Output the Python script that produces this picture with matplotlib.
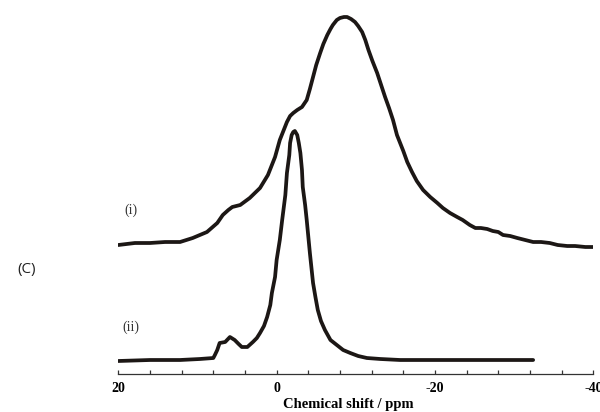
import numpy as np
import matplotlib
matplotlib.use("Agg")
import matplotlib.pyplot as plt

# Trace (i): chemical shift (ppm) and intensity (a.u.)
shift_i = [20.0, 17.9, 16.0, 14.1, 12.2, 10.6, 8.8, 7.5, 6.8, 6.1, 5.6, 4.6, 3.4, 2.1,
           1.1, 0.2, -0.4, -0.9, -1.3, -1.7, -2.1, -2.6, -3.2, -3.8, -4.2, -4.6, -5.0,
           -5.5, -5.9, -6.4, -6.8, -7.1, -7.6, -8.0, -8.5, -8.9, -9.4, -9.9, -10.3,
           -10.8, -11.2, -11.6, -12.1, -12.7, -13.2, -13.7, -14.2, -14.7, -15.2, -16.0,
           -16.5, -17.1, -17.7, -18.5, -19.4, -20.3, -21.0, -21.9, -22.8, -23.5, -24.4,
           -25.1, -25.8, -26.6, -27.3, -28.0, -28.6, -29.5, -30.4, -31.4, -32.4, -33.4,
           -34.5, -35.5, -36.7, -37.7, -39.0, -40.0]
inten_i = [129, 131, 131, 132, 132, 136, 142, 151, 159, 164, 167, 169, 176, 186,
           199, 217, 234, 244, 252, 258, 261, 264, 267, 274, 285, 297, 309,
           321, 330, 339, 345, 349, 354, 356, 357, 357, 355, 352, 348,
           342, 334, 324, 313, 301, 289, 277, 266, 254, 239, 223,
           212, 202, 193, 184, 177, 171, 166, 161, 157, 154, 149,
           146, 146, 145, 143, 142, 139, 138, 136, 134, 132, 132,
           131, 129, 128, 128, 127, 127]

# Trace (ii)
shift_ii = [20.0, 16.0, 12.2, 9.7, 8.0, 7.8, 7.5, 7.2, 6.5, 5.9, 5.3, 4.8, 4.4, 3.7,
            3.0, 2.5, 2.1, 1.6, 1.2, 0.8, 0.6, 0.2, 0.0, -0.4, -0.7, -1.1, -1.3, -1.6,
            -1.7, -1.9, -2.1, -2.3, -2.6, -2.8, -3.0, -3.2, -3.3, -3.6, -3.8, -4.2,
            -4.6, -4.9, -5.2, -5.6, -6.1, -6.8, -7.6, -8.4, -9.3, -10.3, -11.4, -13.1,
            -15.6, -21.9, -28.2, -32.4]
inten_ii = [13, 14, 14, 15, 16, 19, 24, 31, 32, 37, 34, 30, 27, 27,
            32, 36, 41, 48, 57, 69, 81, 97, 114, 134, 154, 179, 201, 219,
            231, 239, 242, 243, 239, 231, 221, 204, 187, 169, 154, 121,
            91, 77, 64, 53, 44, 34, 29, 24, 21, 18, 16, 15,
            14, 14, 14, 14]

tick_positions = list(range(20, -41, -4))
tick_labels = ["20" if t == 20 else "0" if t == 0 else "-20" if t == -20 else "-40" if t == -40 else "" for t in tick_positions]

W, H = 600, 412
fig = plt.figure(figsize=(6.0, 4.12), dpi=100)
ax = fig.add_axes([118.3 / W, 38 / H, 475 / W, 374 / H])
ax.set_xlim(20, -40)
ax.set_ylim(0, 374)

line_color = "#1c1715"
ax.plot(shift_i, inten_i, color=line_color, lw=2.7, solid_joinstyle="round", solid_capstyle="round")
ax.plot(shift_ii, inten_ii, color=line_color, lw=2.7, solid_joinstyle="round", solid_capstyle="round")

for s in ["left", "top", "right"]:
    ax.spines[s].set_visible(False)
ax.spines["bottom"].set_linewidth(0.9)
ax.spines["bottom"].set_color("#333333")
ax.set_yticks([])
ax.set_xticks(tick_positions)
ax.set_xticklabels(tick_labels, fontfamily="Liberation Serif", fontweight="bold", fontsize=10)
ax.tick_params(axis="x", direction="in", length=3, width=0.9, color="#333333", pad=6)

ax.set_xlabel("Chemical shift / ppm", fontfamily="Liberation Serif", fontweight="bold", fontsize=10.5)
ax.xaxis.set_label_coords((348 - 118.3) / 475, -0.064)

fig.text(131 / W, 1 - 210 / H, "(i)", fontfamily="Liberation Serif", fontsize=10, ha="center", va="center", color="#333333")
fig.text(131 / W, 1 - 327 / H, "(ii)", fontfamily="Liberation Serif", fontsize=10, ha="center", va="center", color="#333333")
fig.text(27 / W, 1 - 270 / H, "(C)", fontfamily="Open Sans", fontsize=11, ha="center", va="center", color="#222222")

fig.savefig("out.png", dpi=100)
